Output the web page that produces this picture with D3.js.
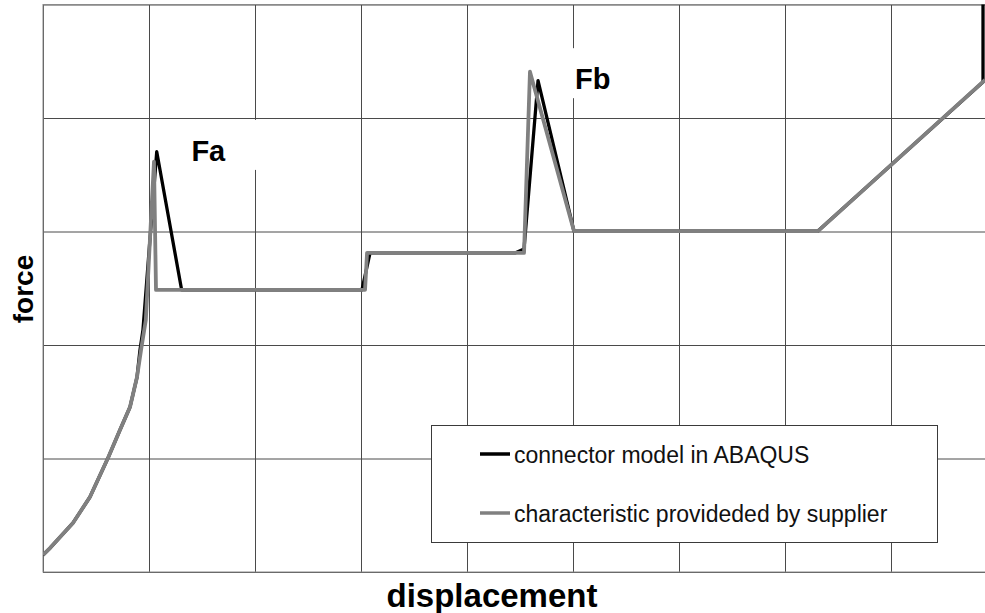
<!DOCTYPE html>
<html>
  <head>
    <meta charset="utf-8" />
    <title>force - displacement</title>
    <script src="https://cdn.jsdelivr.net/npm/d3@7"></script>
    <style type="text/css">
      body { margin: 0; background: #fff; }
      svg { display: block; font-family: Arial, 'Liberation Sans', sans-serif; }
    </style>
  </head>

  <body>
    <svg id="chart" width="985" height="613"></svg>
    <script type="text/javascript">
      // values, in grid units (x: 0..9, y: 0..5)
      var abaqusX = [0, 0.066, 0.283, 0.443, 0.613, 0.726, 0.821, 0.887, 0.915, 0.943, 1.073, 1.308, 3.009, 3.085, 4.453, 4.538, 4.670, 5.009, 7.311, 8.868, 8.868];
      var abaqusY = [0.15, 0.211, 0.432, 0.661, 1.004, 1.251, 1.454, 1.718, 1.956, 2.132, 3.703, 2.485, 2.485, 2.811, 2.811, 2.846, 4.329, 3.004, 3.004, 4.317, 5.06];
      var supplierX = [0, 0.066, 0.283, 0.443, 0.613, 0.726, 0.821, 0.887, 0.925, 0.97, 1.047, 1.066, 3.038, 3.057, 4.538, 4.594, 5.009, 7.311, 8.887];
      var supplierY = [0.15, 0.211, 0.432, 0.661, 1.004, 1.251, 1.454, 1.718, 1.956, 2.22, 3.615, 2.485, 2.485, 2.811, 2.811, 4.408, 3.004, 3.004, 4.335];

      var xGrid = [0, 1, 2, 3, 4, 5, 6, 7, 8, 9];
      var yGrid = [0, 1, 2, 3, 4, 5];

      var seriesNames = ['connector model in ABAQUS', 'characteristic provideded by supplier'];
      var peakLabels = ['Fa', 'Fb'];
      var peakX = [1.4, 5.02];
      var peakY = [3.622, 4.254];

      var svg = d3.select('#chart');
      // note: "top" is taken by window.top, so prefix them
      var pL = 43, pT = 4.5, pR = 997, pB = 572;

      var scX = d3.scaleLinear().domain([0, 9]).range([pL, pR]);
      var scY = d3.scaleLinear().domain([0, 5]).range([pB, pT]);

      svg.append('defs').append('clipPath').attr('id', 'plot')
        .append('rect')
        .attr('x', pL).attr('y', pT)
        .attr('width', pR - pL).attr('height', pB - pT);

      // grid from the axes, no labels
      var gx = svg.append('g')
        .attr('transform', 'translate(0,' + pB + ')')
        .call(d3.axisBottom(scX).tickValues(xGrid).tickSize(-(pB - pT)).tickFormat(''));
      var gy = svg.append('g')
        .attr('transform', 'translate(' + pL + ',0)')
        .call(d3.axisLeft(scY).tickValues(yGrid).tickSize(-(pR - pL)).tickFormat(''));
      [gx, gy].forEach(function (g) {
        g.select('.domain').remove();
        g.selectAll('line').attr('stroke', '#4a4a4a');
      });

      // plot border
      svg.append('rect')
        .attr('x', pL).attr('y', pT)
        .attr('width', pR - pL).attr('height', pB - pT)
        .attr('fill', 'none')
        .attr('stroke', '#8a8a8a');

      // white patches behind Fa / Fb (they hide the grid)
      var labG = svg.append('g');
      labG.selectAll('rect')
        .data(peakLabels)
        .enter()
        .append('rect')
        .attr('x', (d, i) => scX(peakX[i]) - (i == 0 ? 14 : 15))
        .attr('y', (d, i) => scY(peakY[i]) - 41)
        .attr('width', (d, i) => (i == 0 ? 82 : 65))
        .attr('height', 50)
        .attr('fill', '#fff');
      labG.selectAll('text')
        .data(peakLabels)
        .enter()
        .append('text')
        .attr('x', (d, i) => scX(peakX[i]))
        .attr('y', (d, i) => scY(peakY[i]))
        .attr('font-size', 29)
        .attr('font-weight', 'bold')
        .text((d) => d);

      var lineMaker = d3.line()
        .x((d) => scX(d[0]))
        .y((d) => scY(d[1]));

      var abaqus = abaqusX.map((v, i) => [v, abaqusY[i]]);
      var supplier = supplierX.map((v, i) => [v, supplierY[i]]);

      var lines = svg.append('g').attr('clip-path', 'url(#plot)');
      lines.append('path')
        .attr('fill', 'none')
        .attr('stroke', '#000')
        .attr('stroke-width', 3.3)
        .attr('stroke-linejoin', 'round')
        .attr('d', lineMaker(abaqus));
      lines.append('path')
        .attr('fill', 'none')
        .attr('stroke', '#808080')
        .attr('stroke-width', 3.8)
        .attr('stroke-linejoin', 'round')
        .attr('d', lineMaker(supplier));

      // legend
      var lg = svg.append('g');
      lg.append('rect')
        .attr('x', 431.5).attr('y', 425.5)
        .attr('width', 506).attr('height', 117)
        .attr('fill', '#fff')
        .attr('stroke', '#3a3a3a');
      var colors = ['#000', '#808080'];
      seriesNames.forEach(function (name, i) {
        var yy = 454 + i * 59;
        lg.append('line')
          .attr('x1', 480).attr('x2', 510)
          .attr('y1', yy).attr('y2', yy)
          .attr('stroke', colors[i])
          .attr('stroke-width', 3.5);
        lg.append('text')
          .attr('x', 514).attr('y', yy + 9)
          .attr('font-size', 23)
          .attr('fill', '#111')
          .text(name);
      });

      // axis titles
      svg.append('text')
        .attr('x', 492)
        .attr('y', 607)
        .attr('text-anchor', 'middle')
        .attr('font-size', 33)
        .attr('font-weight', 'bold')
        .text('displacement');
      svg.append('text')
        .attr('transform', 'translate(33,289) rotate(-90)')
        .attr('text-anchor', 'middle')
        .attr('font-size', 28)
        .attr('font-weight', 'bold')
        .text('force');
    </script>
  </body>
</html>
